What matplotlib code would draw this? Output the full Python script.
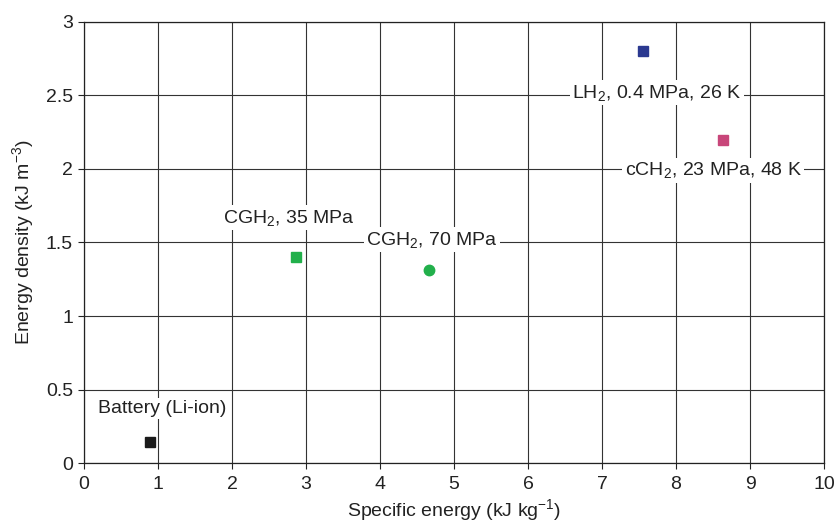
import matplotlib
matplotlib.use("Agg")
import matplotlib.pyplot as plt

plt.rcParams['font.family'] = ['Liberation Sans', 'DejaVu Sans']
plt.rcParams['mathtext.default'] = 'regular'

# data
names = ['Battery (Li-ion)', 'CGH$_2$, 35 MPa', 'CGH$_2$, 70 MPa',
         'LH$_2$, 0.4 MPa, 26 K', 'cCH$_2$, 23 MPa, 48 K']
spec_energy = [0.89, 2.86, 4.66, 7.55, 8.64]
energy_density = [0.14, 1.40, 1.31, 2.80, 2.20]
markers = ['s', 's', 'o', 's', 's']
colors = ['#1a1a1a', '#22b04b', '#22b04b', '#2b3990', '#c8467a']
label_x = [1.05, 2.77, 4.70, 7.74, 8.50]
label_y = [0.37, 1.67, 1.52, 2.52, 1.99]

fs = 14

fig = plt.figure(figsize=(8.37, 5.21), dpi=100)
ax = fig.add_axes([0.1004, 0.1113, 0.8841, 0.8465])

for x, y, m, c in zip(spec_energy, energy_density, markers, colors):
    ax.plot(x, y, marker=m, color=c, markersize=7.5 if m == 'o' else 7,
            linestyle='none', zorder=4)

for name, lx, ly in zip(names, label_x, label_y):
    ax.text(lx, ly, name, ha='center', va='center', fontsize=fs,
            color='#222222', zorder=3,
            bbox=dict(facecolor='white', edgecolor='none', pad=1.5))

ax.set_xlim(0, 10)
ax.set_ylim(0, 3)
ax.set_xticks(range(0, 11))
ax.set_yticks([0, 0.5, 1, 1.5, 2, 2.5, 3])
ax.set_yticklabels(['0', '0.5', '1', '1.5', '2', '2.5', '3'])
ax.grid(True, color='#333333', linewidth=0.8)
ax.set_axisbelow(True)
ax.tick_params(direction='out', length=4, width=0.8, labelsize=fs,
               colors='#222222')
ax.tick_params(axis='x', pad=5)
ax.tick_params(axis='y', pad=4)
for s in ax.spines.values():
    s.set_color('#222222')
    s.set_linewidth(0.9)

ax.set_xlabel('Specific energy (kJ kg$^{-1}$)', fontsize=fs, color='#222222',
              labelpad=3)
ax.set_ylabel('Energy density (kJ m$^{-3}$)', fontsize=fs, color='#222222',
              labelpad=7)

fig.savefig('out.png', dpi=100)
